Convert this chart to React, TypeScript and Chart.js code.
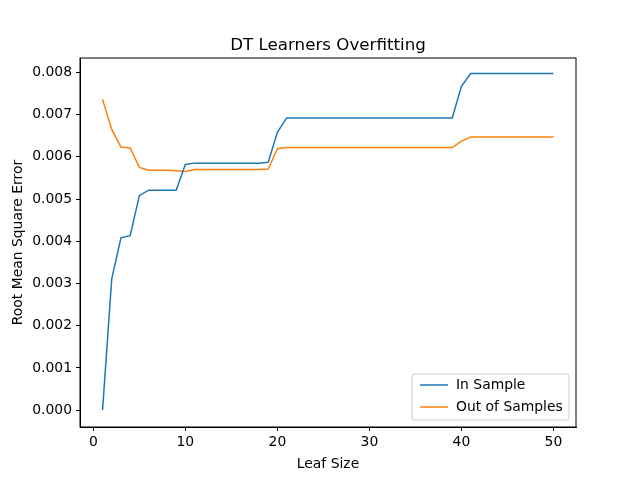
import React, { useEffect, useRef } from 'react';
import { Chart, registerables } from 'chart.js';

Chart.register(...registerables);

const leafSizes = Array.from({ length: 50 }, (_, i) => i + 1);
const inSample = [
  0.0, 0.00311, 0.00408, 0.00413, 0.00508, 0.00521, 0.00521, 0.00521, 0.00521, 0.00582,
  0.00585, 0.00585, 0.00585, 0.00585, 0.00585, 0.00585, 0.00585, 0.00585, 0.00587, 0.00658,
  0.00692, 0.00692, 0.00692, 0.00692, 0.00692, 0.00692, 0.00692, 0.00692, 0.00692, 0.00692,
  0.00692, 0.00692, 0.00692, 0.00692, 0.00692, 0.00692, 0.00692, 0.00692, 0.00692, 0.00767,
  0.00797, 0.00797, 0.00797, 0.00797, 0.00797, 0.00797, 0.00797, 0.00797, 0.00797, 0.00797,
];
const outSample = [
  0.00736, 0.00665, 0.00623, 0.00621, 0.00575, 0.00568, 0.00568, 0.00568, 0.00567, 0.00565,
  0.00570, 0.00570, 0.00570, 0.00570, 0.00570, 0.00570, 0.00570, 0.00570, 0.00571, 0.00619,
  0.00622, 0.00622, 0.00622, 0.00622, 0.00622, 0.00622, 0.00622, 0.00622, 0.00622, 0.00622,
  0.00622, 0.00622, 0.00622, 0.00622, 0.00622, 0.00622, 0.00622, 0.00622, 0.00622, 0.00637,
  0.00647, 0.00647, 0.00647, 0.00647, 0.00647, 0.00647, 0.00647, 0.00647, 0.00647, 0.00647,
];
const xTicks = [0, 10, 20, 30, 40, 50];
const yTicks = [0, 0.001, 0.002, 0.003, 0.004, 0.005, 0.006, 0.007, 0.008];
const seriesNames = ['In Sample', 'Out of Samples'];
const colors = ['#1f77b4', '#ff7f0e'];

const FONT = '"DejaVu Sans", sans-serif';

const App: React.FC = () => {
  const ref = useRef<HTMLCanvasElement>(null);

  useEffect(() => {
    document.body.style.margin = '0';
    const ctx = ref.current?.getContext('2d');
    if (!ctx) return;

    const decor = {
      id: 'decor',
      afterDraw(chart: Chart) {
        const c = chart.ctx;
        const a = chart.chartArea;
        c.save();
        c.strokeStyle = '#000';
        c.lineWidth = 1;
        c.strokeRect(a.left, a.top, a.right - a.left, a.bottom - a.top);
        c.fillStyle = '#000';
        c.textAlign = 'center';
        c.textBaseline = 'alphabetic';
        c.font = `16.7px ${FONT}`;
        c.fillText('DT Learners Overfitting', (a.left + a.right) / 2, 50);
        c.font = `13.9px ${FONT}`;
        c.fillText('Leaf Size', (a.left + a.right) / 2, 468);
        c.save();
        c.translate(22, (a.top + a.bottom) / 2);
        c.rotate(-Math.PI / 2);
        c.fillText('Root Mean Square Error', 0, 0);
        c.restore();
        // legend
        const lx = 412, ly = 374, lw = 157, lh = 46;
        c.fillStyle = 'rgba(255,255,255,0.8)';
        c.strokeStyle = '#ccc';
        c.beginPath();
        c.roundRect(lx, ly, lw, lh, 3);
        c.fill();
        c.stroke();
        c.textAlign = 'left';
        c.textBaseline = 'middle';
        seriesNames.forEach((n, i) => {
          const y = ly + 11 + i * 22;
          c.strokeStyle = colors[i];
          c.lineWidth = 1.5;
          c.beginPath();
          c.moveTo(lx + 8, y);
          c.lineTo(lx + 36, y);
          c.stroke();
          c.fillStyle = '#000';
          c.fillText(n, lx + 44, y);
        });
        c.restore();
      },
    };

    const chart = new Chart(ctx, {
      type: 'line',
      data: {
        labels: leafSizes,
        datasets: [inSample, outSample].map((d, i) => ({
          label: seriesNames[i],
          data: d.map((v, j) => ({ x: leafSizes[j], y: v })),
          borderColor: colors[i],
          borderWidth: 1.5,
          pointRadius: 0,
          tension: 0,
        })),
      },
      options: {
        animation: false,
        responsive: false,
        events: [],
        layout: { padding: { top: 58, right: 64, left: 0, bottom: 0 } },
        plugins: { legend: { display: false }, tooltip: { enabled: false } },
        scales: {
          x: {
            type: 'linear',
            min: -1.45,
            max: 52.45,
            afterBuildTicks: (s: any) => { s.ticks = xTicks.map((v) => ({ value: v })); },
            afterFit: (s: any) => { s.height = 53; },
            grid: { drawOnChartArea: false, tickLength: 4, tickColor: '#000' },
            border: { color: '#000' },
            ticks: { color: '#000', font: { family: FONT, size: 13.9 }, maxRotation: 0, padding: 3 },
          },
          y: {
            type: 'linear',
            min: -0.0004,
            max: 0.00834,
            afterBuildTicks: (s: any) => { s.ticks = yTicks.map((v) => ({ value: v })); },
            afterFit: (s: any) => { s.width = 80; },
            grid: { drawOnChartArea: false, tickLength: 4, tickColor: '#000' },
            border: { color: '#000' },
            ticks: {
              color: '#000',
              font: { family: FONT, size: 13.9 },
              padding: 4,
              callback: (v: any) => Number(v).toFixed(3),
            },
          },
        },
      },
      plugins: [decor],
    });

    return () => chart.destroy();
  }, []);

  return <canvas ref={ref} width={640} height={480} style={{ display: 'block' }} />;
};

export default App;
